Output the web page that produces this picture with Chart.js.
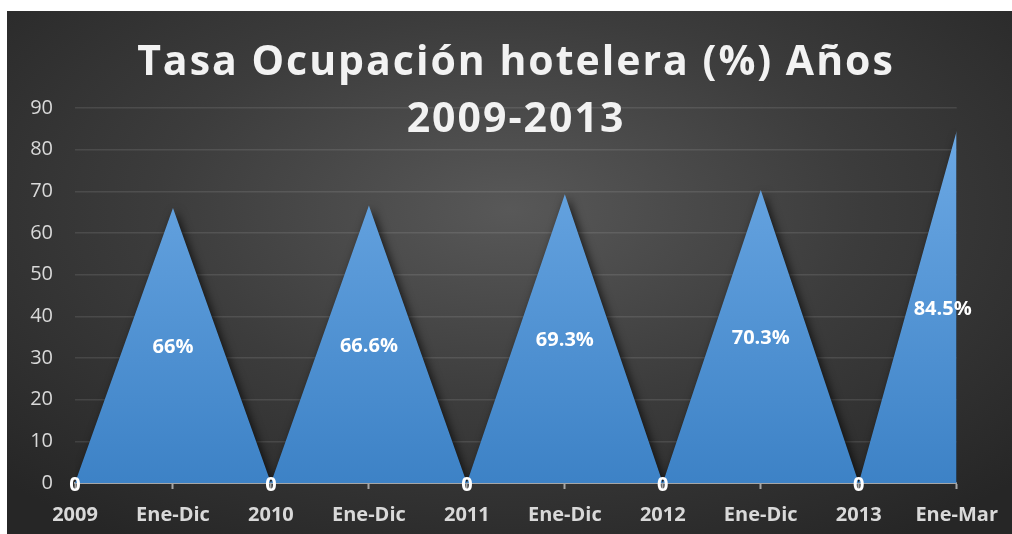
<!DOCTYPE html>
<html>
<head>
<meta charset="utf-8">
<script src="https://cdn.jsdelivr.net/npm/chart.js@4.4.1/dist/chart.umd.min.js"></script>
<style>
    html, body { margin: 0; padding: 0; background: #fff; }
    #box {
        position: absolute; left: 7px; top: 11px; width: 1005px; height: 523px;
        background: radial-gradient(ellipse 70% 75% at 50% 38%, #585858 0%, #3c3c3c 50%, #262626 100%);
    }
</style>
</head>
<body>
<div id="box"><canvas id="myChart" width="1005" height="523"></canvas></div>
<script>
const labels = ['2009', 'Ene-Dic', '2010', 'Ene-Dic', '2011', 'Ene-Dic', '2012', 'Ene-Dic', '2013', 'Ene-Mar']
const values = [0, 66, 0, 66.6, 0, 69.3, 0, 70.3, 0, 84.5]
const valueLabels = ['0', '66%', '0', '66.6%', '0', '69.3%', '0', '70.3%', '0', '84.5%']
const titleLines = ['Tasa Ocupación hotelera (%) Años', '2009-2013']

const FONT = "'Open Sans', 'Noto Sans', sans-serif"

const fillGradient = (ctx) => {
    const area = ctx.chart.chartArea
    if (!area) return '#4a90d9'
    const g = ctx.chart.ctx.createLinearGradient(0, area.top, 0, area.bottom)
    g.addColorStop(0, '#6fabe6')
    g.addColorStop(1, '#3d82c6')
    return g
}

const shadowPlugin = {
    id: 'shadow',
    beforeDatasetsDraw(chart) {
        const c = chart.ctx
        c.save()
        c.shadowColor = 'rgba(0,0,0,0.7)'
        c.shadowBlur = 10
        c.shadowOffsetX = 3
        c.shadowOffsetY = 3
    },
    afterDatasetsDraw(chart) {
        chart.ctx.restore()
    }
}

const labelPlugin = {
    id: 'valueLabels',
    afterDraw(chart) {
        const c = chart.ctx
        const meta = chart.getDatasetMeta(0)
        const y = chart.scales.y
        const area = chart.chartArea
        c.save()
        c.fillStyle = '#ffffff'
        c.font = `bold 20px ${FONT}`
        c.textAlign = 'center'
        c.textBaseline = 'middle'
        meta.data.forEach((pt, i) => {
            const txt = valueLabels[i]
            const w = c.measureText(txt).width
            const x = Math.min(pt.x, area.right + 15 - w / 2)
            const yy = y.getPixelForValue(values[i] / 2)
            c.fillText(txt, x, yy + 2)
        })
        c.restore()
    }
}

const titlePlugin = {
    id: 'bigTitle',
    afterDraw(chart) {
        const c = chart.ctx
        c.save()
        c.fillStyle = '#f2f2f2'
        c.font = `bold 41px ${FONT}`
        c.letterSpacing = '2px'
        c.textAlign = 'center'
        c.textBaseline = 'middle'
        c.fillText(titleLines[0], 509, 52)
        c.fillText(titleLines[1], 509, 109)
        c.restore()
    }
}

const chart = new Chart('myChart', {
    type: 'line',
    data: {
        labels: labels,
        datasets: [{
            data: values,
            fill: 'origin',
            backgroundColor: fillGradient,
            borderWidth: 0,
            pointRadius: 0,
            tension: 0,
        }]
    },
    options: {
        responsive: false,
        animation: false,
        layout: { padding: { top: 97, right: 54, bottom: 0, left: 0 } },
        plugins: {
            legend: { display: false },
            tooltip: { enabled: false },
        },
        scales: {
            x: {
                offset: false,
                border: { color: '#a6a6a6', width: 2 },
                grid: { drawOnChartArea: false, color: '#a6a6a6', tickLength: 6, tickWidth: 2 },
                ticks: {
                    color: '#d9d9d9',
                    font: { family: FONT, size: 20, weight: 'bold' },
                    padding: 14,
                    maxRotation: 0,
                    autoSkip: false,
                },
                afterFit(scale) { scale.height = 51 }
            },
            y: {
                min: 0,
                max: 90,
                border: { display: false },
                grid: { color: 'rgba(255,255,255,0.1)', lineWidth: 1.5, drawTicks: false },
                ticks: {
                    stepSize: 10,
                    color: '#d9d9d9',
                    font: { family: FONT, size: 20 },
                    padding: 22,
                },
                afterFit(scale) { scale.width = 68 }
            }
        }
    },
    plugins: [shadowPlugin, labelPlugin, titlePlugin]
})
</script>
</body>
</html>
